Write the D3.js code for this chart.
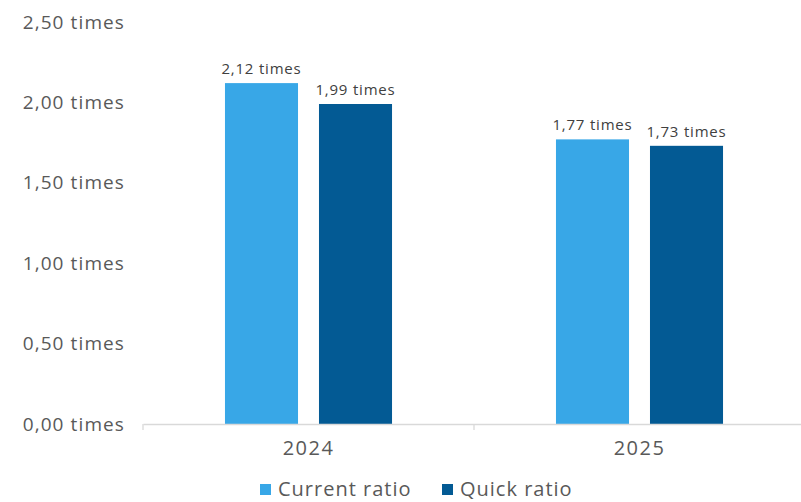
<!DOCTYPE html>
<html lang="en">
<head>
<meta charset="UTF-8">
<title>Current and quick ratio</title>
<script src="https://d3js.org/d3.v7.min.js"></script>
<style>
  body { margin: 0; background: #fff; }
  svg text { font-family: "Open Sans", sans-serif; }
</style>
</head>
<body>
<div id="chart"></div>
<script>
    const years = ["2024", "2025"];
    const seriesNames = ["Current ratio", "Quick ratio"];
    const currentRatio = [2.12, 1.77];
    const quickRatio = [1.99, 1.73];
    const yTicks = [0, 0.5, 1, 1.5, 2, 2.5];
    const colors = ["#38a7e7", "#035a94"];

    const width = 801, height = 502;
    const margin = { top: 22, right: 0, bottom: 78, left: 143 };

    const fmt = v => v.toFixed(2).replace(".", ",") + " times";

    const svg = d3.select("#chart").append("svg")
        .attr("width", width)
        .attr("height", height);

    const x = d3.scaleBand()
        .domain(years)
        .range([margin.left, margin.left + 331 * 2]);

    const inner = d3.scaleBand()
        .domain(seriesNames)
        .range([0, x.bandwidth()])
        .paddingInner(0.223)
        .paddingOuter(0.872);

    const y = d3.scaleLinear()
        .domain([0, 2.5])
        .range([height - margin.bottom, margin.top]);

    // y axis labels (no line)
    const yAxis = svg.append("g")
        .attr("transform", `translate(125,0)`)
        .call(d3.axisLeft(y).tickValues(yTicks).tickSize(0).tickPadding(0).tickFormat(fmt));
    yAxis.select(".domain").remove();
    yAxis.selectAll("text")
        .attr("font-size", 19)
        .attr("fill", "#595959")
        .style("letter-spacing", "1.1px");

    const rows = years.map((yr, i) => ({ year: yr, values: [currentRatio[i], quickRatio[i]] }));

    const groups = svg.selectAll(".grp")
        .data(rows)
        .join("g")
        .attr("transform", d => `translate(${x(d.year)},0)`);

    groups.selectAll("rect")
        .data(d => d.values.map((v, j) => ({ name: seriesNames[j], value: v, j })))
        .join("rect")
        .attr("x", d => inner(d.name))
        .attr("y", d => y(d.value))
        .attr("width", inner.bandwidth())
        .attr("height", d => y(0) - y(d.value))
        .attr("fill", d => colors[d.j]);

    groups.selectAll(".val")
        .data(d => d.values.map((v, j) => ({ name: seriesNames[j], value: v, j })))
        .join("text")
        .attr("class", "val")
        .attr("x", d => inner(d.name) + inner.bandwidth() / 2)
        .attr("y", d => y(d.value) - 9)
        .attr("text-anchor", "middle")
        .attr("font-size", 15)
        .attr("fill", "#404040")
        .style("letter-spacing", "0.8px")
        .text(d => fmt(d.value));

    // x axis
    const xAxis = svg.append("g")
        .attr("transform", `translate(0,${y(0)})`)
        .call(d3.axisBottom(x).tickSize(0).tickPadding(17));
    xAxis.select(".domain").attr("stroke", "#d9d9d9").attr("stroke-width", 1.3);
    xAxis.selectAll("text")
        .attr("font-size", 20)
        .attr("fill", "#595959")
        .style("letter-spacing", "1.5px");

    // category separator ticks
    const edges = [margin.left, margin.left + x.step(), margin.left + x.step() * 2];
    svg.append("g").selectAll("line")
        .data(edges)
        .join("line")
        .attr("x1", d => d).attr("x2", d => d)
        .attr("y1", y(0)).attr("y2", y(0) + 6)
        .attr("stroke", "#d9d9d9")
        .attr("stroke-width", 1.3);

    // legend
    const legend = svg.append("g").attr("transform", "translate(260,489)");
    const legendX = [0, 182];
    const item = legend.selectAll("g")
        .data(seriesNames)
        .join("g")
        .attr("transform", (d, i) => `translate(${legendX[i]},0)`);
    item.append("rect")
        .attr("x", 0).attr("y", -5)
        .attr("width", 11).attr("height", 11)
        .attr("fill", (d, i) => colors[i]);
    item.append("text")
        .attr("x", 18)
        .attr("y", 0)
        .attr("dy", "0.35em")
        .attr("font-size", 20)
        .attr("fill", "#595959")
        .style("letter-spacing", "1px")
        .text(d => d);
</script>
</body>
</html>
